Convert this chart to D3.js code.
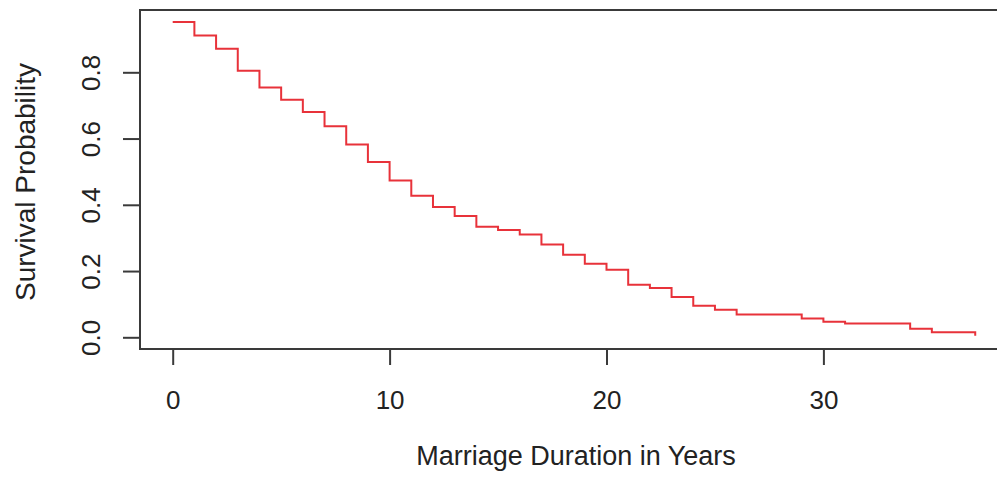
<!DOCTYPE html>
<html>
<head>
<meta charset="utf-8">
<script src="https://cdnjs.cloudflare.com/ajax/libs/d3/7.8.5/d3.min.js"></script>
<style>
  body { margin: 0; background: #fff; }
  svg { display: block; }
</style>
</head>
<body>
<div id="chart"></div>
<script>
// Kaplan-Meier step data (years, survival)
var years = [0, 1, 2, 3, 4, 5, 6, 7, 8, 9, 10, 11, 12, 13, 14, 15, 16, 17, 18, 19, 20,
    21, 22, 23, 24, 25, 26, 29, 30, 31, 34, 35, 37];
var survival = [0.952, 0.911, 0.871, 0.805, 0.754, 0.717, 0.680, 0.637, 0.582, 0.529, 0.473,
    0.427, 0.393, 0.366, 0.334, 0.324, 0.310, 0.280, 0.249, 0.222, 0.204,
    0.159, 0.149, 0.122, 0.095, 0.083, 0.069, 0.057, 0.047, 0.042, 0.026, 0.015, 0.005];
var xTicks = [0, 10, 20, 30];
var yTicks = [0.0, 0.2, 0.4, 0.6, 0.8];

//Width and height
var width = 997;
var height = 483;

// plot box
var box = { left: 140, top: 10, right: 1000, bottom: 349 };

var svg = d3.select("#chart")
    .append("svg")
    .attr("width", width)
    .attr("height", height);

//Scales
var x = d3.scaleLinear()
    .domain([0, 37])
    .range([172.7, 172.7 + 37 * 21.69]);

var y = d3.scaleLinear()
    .domain([0, 0.8])
    .range([337.3, 72.3]);

var data = years.map(function(d, i) {
    return { t: d, s: survival[i] };
});

// survival curve
var line = d3.line()
    .x(function(d) { return x(d.t); })
    .y(function(d) { return y(d.s); })
    .curve(d3.curveStepAfter);

svg.append("path")
    .datum(data)
    .attr("d", line)
    .attr("fill", "none")
    .attr("stroke", "#e8323a")
    .attr("stroke-width", 2);

// box round the plot
svg.append("rect")
    .attr("x", box.left)
    .attr("y", box.top)
    .attr("width", box.right - box.left)
    .attr("height", box.bottom - box.top)
    .attr("fill", "none")
    .attr("stroke", "#3a3a3a")
    .attr("stroke-width", 2);

// x axis
var xAxis = svg.append("g")
    .attr("transform", "translate(0," + box.bottom + ")")
    .call(d3.axisBottom(x).tickValues(xTicks).tickSize(16).tickPadding(0).tickFormat(d3.format("d")));
xAxis.select(".domain").remove();
xAxis.selectAll("line").attr("stroke", "#3a3a3a").attr("stroke-width", 2);
xAxis.selectAll("text")
    .attr("y", 60)
    .attr("dy", null)
    .attr("fill", "#222")
    .style("font-family", "Liberation Sans, Arial, sans-serif")
    .style("font-size", "26px");

// y axis
var yAxis = svg.append("g")
    .attr("transform", "translate(" + box.left + ",0)")
    .call(d3.axisLeft(y).tickValues(yTicks).tickSize(17).tickFormat(d3.format(".1f")));
yAxis.select(".domain").remove();
yAxis.selectAll("line").attr("stroke", "#3a3a3a").attr("stroke-width", 2);
yAxis.selectAll("text")
    .attr("x", null)
    .attr("dy", null)
    .attr("text-anchor", "middle")
    .attr("transform", "translate(-40,0) rotate(-90)")
    .attr("fill", "#222")
    .style("font-family", "Liberation Sans, Arial, sans-serif")
    .style("font-size", "26px");

// axis titles
svg.append("text")
    .attr("x", 576)
    .attr("y", 465)
    .attr("text-anchor", "middle")
    .attr("fill", "#222")
    .style("font-family", "Liberation Sans, Arial, sans-serif")
    .style("font-size", "27px")
    .text("Marriage Duration in Years");

svg.append("text")
    .attr("transform", "translate(35,182) rotate(-90)")
    .attr("text-anchor", "middle")
    .attr("fill", "#222")
    .style("font-family", "Liberation Sans, Arial, sans-serif")
    .style("font-size", "28px")
    .text("Survival Probability");
</script>
</body>
</html>
